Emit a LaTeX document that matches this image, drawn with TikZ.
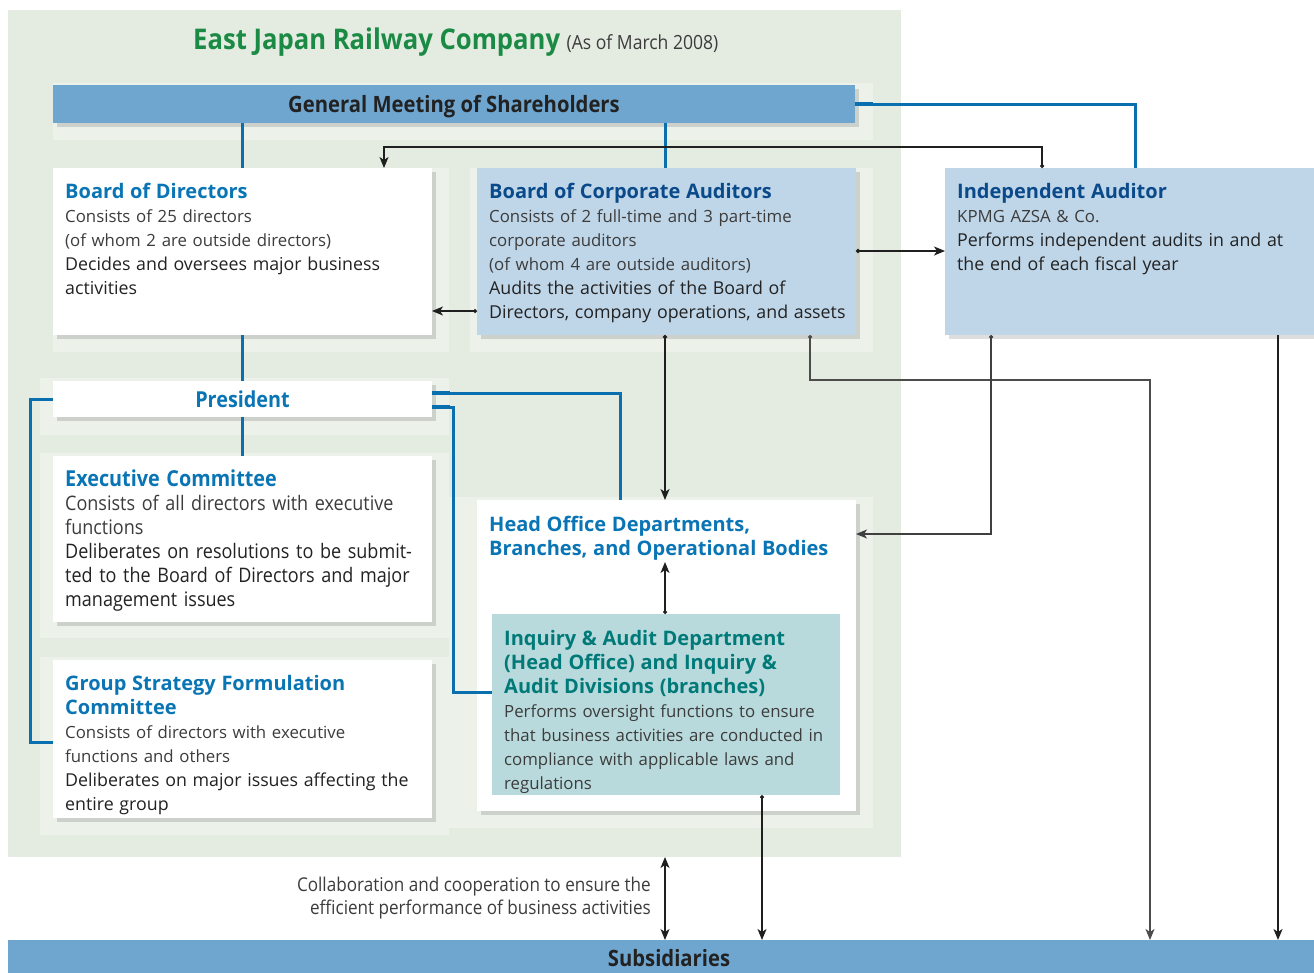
\documentclass[tikz,border=0pt]{standalone}
\usepackage{fontspec}
\setmainfont{Open Sans}
\newfontfamily\cond[FakeStretch=0.9]{Open Sans}
\usetikzlibrary{arrows.meta,shadows,calc}
\definecolor{bggreen}{HTML}{E4ECE2}
\definecolor{frame}{HTML}{ECF1EA}
\definecolor{barblue}{HTML}{6FA6D0}
\definecolor{lblue}{HTML}{BFD6E9}
\definecolor{lteal}{HTML}{B9DADC}
\definecolor{hblue}{HTML}{0A75B5}
\definecolor{hnavy}{HTML}{0B4A8A}
\definecolor{hteal}{HTML}{007A78}
\definecolor{tgreen}{HTML}{1B8A45}
\definecolor{cblue}{HTML}{0A6FAE}
\definecolor{tlight}{HTML}{3C3C3C}
\definecolor{tdark}{HTML}{222222}
\newcommand{\hd}[1]{{\fontsize{20}{24}\selectfont\bfseries #1}}
\newcommand{\lt}{\color{tlight}\fontsize{16.8}{24}\selectfont}
\newcommand{\dk}{\color{tdark}\fontsize{17.8}{24}\selectfont}
\begin{document}
\begin{tikzpicture}[x=1pt,y=-1pt,
  shd/.style={drop shadow={shadow xshift=4pt,shadow yshift=-4pt,opacity=0.13,fill=black}},
  wbox/.style={rectangle,fill=white,inner sep=0,shd},
  lbbox/.style={rectangle,fill=lblue,inner sep=0,shd},
  bar/.style={rectangle,fill=barblue,inner sep=0,text=tdark,text height=16pt,text depth=0pt,font=\cond\bfseries\fontsize{22.5}{24}\selectfont},
  txt/.style={anchor=north west,inner sep=0,align=left,text width=370pt,font=\fontsize{17}{24}\selectfont},
  bconn/.style={draw=cblue,line width=3pt},
  conn/.style={draw=black!88,line width=1.2pt,{Circle[length=4pt]}-{Stealth[length=11pt,width=9pt,inset=3pt]}},
  connx/.style={draw=black!88,line width=1.2pt,-{Stealth[length=11pt,width=9pt,inset=3pt]}},
  frm/.style={fill=frame}]
\useasboundingbox (0,0) rectangle (1314,972);
% background
\fill[bggreen] (8,10) rectangle (901,857);
\fill[frm] (53,83) rectangle (873,140);
\fill[frm] (53,168) rectangle (449,352);
\fill[frm] (470,168) rectangle (873,352);
\fill[frm] (40,378) rectangle (449,435);
\fill[frm] (40,453) rectangle (449,638);
\fill[frm] (40,657) rectangle (449,835);
\fill[frm] (449,497) rectangle (873,828);
% title
\node[anchor=base west,inner sep=0,text=tgreen,font=\cond\bfseries\fontsize{28.5}{32}\selectfont] (title) at (193,49) {East Japan Railway Company};
\node[anchor=base west,inner sep=0,text=tlight,font=\cond\fontsize{19.5}{24}\selectfont] (asof) at ($(title.base east)+(6,0)$) {(As of March 2008)};
% boxes
\node[bar,minimum width=802,minimum height=38,shd] (gm) at (454,104) {General Meeting of Shareholders};
\node[wbox,minimum width=379,minimum height=167] (bod) at (242.5,251.5) {};
\node[lbbox,minimum width=379,minimum height=167] (bca) at (666.5,251.5) {};
\node[lbbox,minimum width=385,minimum height=167] (ia) at (1137.5,251.5) {};
\node[wbox,minimum width=379,minimum height=36,text=hblue,font=\cond\bfseries\fontsize{22}{24}\selectfont] (pres) at (242.5,399) {President};
\node[wbox,minimum width=379,minimum height=166] (exec) at (242.5,539) {};
\node[wbox,minimum width=379,minimum height=158] (grp) at (242.5,739) {};
\node[wbox,minimum width=379,minimum height=311] (ho) at (666.5,655.5) {};
\node[rectangle,fill=lteal,inner sep=0,minimum width=348,minimum height=181] (inq) at (666,704.5) {};
\node[bar,minimum width=1322,minimum height=36] (sub) at (669,958) {Subsidiaries};
% texts
\node[txt] (bodt) at (65,181.2) {\strut\color{hblue}\hd{Board of Directors}\\
 {\lt Consists of 25 directors}\\
 {\lt (of whom 2 are outside directors)}\\
 {\dk Decides and oversees major business}\\
 {\dk activities}};
\node[txt] (bcat) at (489,181.2) {\strut\color{hnavy}\hd{Board of Corporate Auditors}\\
 {\lt Consists of 2 full-time and 3 part-time}\\
 {\lt corporate auditors}\\
 {\lt (of whom 4 are outside auditors)}\\
 {\dk Audits the activities of the Board of}\\
 {\dk Directors, company operations, and assets}};
\node[txt] (iat) at (957,181.2) {\strut\color{hnavy}\hd{Independent Auditor}\\
 {\lt KPMG AZSA \& Co.}\\
 {\dk Performs independent audits in and at}\\
 {\dk the end of each fiscal year}};
\node[txt,font=\cond\fontsize{20}{24}\selectfont] (exect) at (65,469.2) {\strut\color{hblue}{\fontsize{22}{24}\selectfont\bfseries Executive Committee}\\
 {\color{tlight}Consists of all directors with executive}\\
 {\color{tlight}functions}\\
 {\color{tdark}Deliberates on resolutions to be submit-}\\
 {\color{tdark}ted to the Board of Directors and major}\\
 {\color{tdark}management issues}};
\node[txt] (grpt) at (65,673.2) {\strut\color{hblue}\hd{Group Strategy Formulation}\\
 \hd{Committee}\\
 {\lt Consists of directors with executive}\\
 {\lt functions and others}\\
 {\dk Deliberates on major issues affecting the}\\
 {\dk entire group}};
\node[txt] (hot) at (489,514.2) {\strut\color{hblue}\hd{Head Office Departments,}\\
 \hd{Branches, and Operational Bodies}};
\node[txt] (inqt) at (504,628.2) {\strut\color{hteal}\hd{Inquiry \& Audit Department}\\
 \hd{(Head Office) and Inquiry \&}\\
 \hd{Audit Divisions (branches)}\\
 {\lt Performs oversight functions to ensure}\\
 {\lt that business activities are conducted in}\\
 {\lt compliance with applicable laws and}\\
 {\lt regulations}};
\node[anchor=north east,inner sep=0,align=right,text=tlight,font=\cond\fontsize{19}{23.5}\selectfont] (collab) at (651,874.5) {\strut Collaboration and cooperation to ensure the\\efficient performance of business activities};
% named end points
\coordinate (iaTop) at (1135,168);
\coordinate (hoTop) at (620,500);
\coordinate (grpIn) at (53,742);
\coordinate (inqIn) at (492,692);
\coordinate (iaA) at (1042,168);
\coordinate (bodA) at (384,168);
\coordinate (bcaL) at (477,311);
\coordinate (bodR) at (432,311);
\coordinate (bcaR) at (856,251);
\coordinate (iaL) at (945,251);
\coordinate (bcaB1) at (665,335);
\coordinate (hoT1) at (665,500);
\coordinate (bcaB2) at (810,335);
\coordinate (sub1) at (1150,940);
\coordinate (iaB1) at (991,335);
\coordinate (hoR) at (856,534);
\coordinate (iaB2) at (1278,335);
\coordinate (sub2) at (1278,940);
\coordinate (inqT) at (665,614);
\coordinate (hoIn) at (665,562);
\coordinate (inqB) at (762,795);
\coordinate (sub3) at (762,940);
\coordinate (panB) at (665,857);
\coordinate (sub4) at (665,940);
% blue connectors
\draw[bconn] (gm.south -| bod.north) -- (bod.north);
\draw[bconn] (gm.south -| bcaB1) -- (bcaB1 |- bca.north);
\draw[bconn] (gm.east) -| (iaTop);
\draw[cblue,line width=4.5pt] (gm.east) -- ++(18,0);
\draw[bconn] (bod.south) -- (pres.north);
\draw[bconn] (pres.south) -- (exec.north);
\draw[bconn] (pres.west) -- ($(pres.west)+(-22,0)$) |- (grpIn);
\draw[bconn] ($(pres.east)+(0,-6)$) -| (hoTop);
\draw[bconn] ($(pres.east)+(0,8)$) -| ($(inqIn)+(-39,0)$) -- (inqIn);
\draw[cblue,line width=4.5pt] ($(pres.east)+(0,-6)$) -- ++(18,0);
\draw[cblue,line width=4.5pt] ($(pres.east)+(0,8)$) -- ++(18,0);
% black connectors
\draw[conn] (iaA) -- ++(0,-21) -| (bodA);
\draw[conn] (bcaL) -- (bodR);
\draw[conn,line width=1.8pt] (bcaR) -- (iaL);
\draw[conn,line width=1.8pt] (bcaB1) -- (hoT1);
\draw[conn,draw=black!70] (bcaB2) -- ++(0,45) -| (sub1);
\draw[conn,draw=black!75] (iaB1) |- (hoR);
\draw[connx,line width=1.8pt] (iaB2) -- (sub2);
\draw[conn] (inqT) -- (hoIn);
\draw[conn] (inqB) -- (sub3);
\draw[draw=black!88,line width=1.2pt,{Stealth[length=11pt,width=9pt,inset=3pt]}-{Stealth[length=11pt,width=9pt,inset=3pt]}] (panB) -- (sub4);
\end{tikzpicture}
\end{document}
